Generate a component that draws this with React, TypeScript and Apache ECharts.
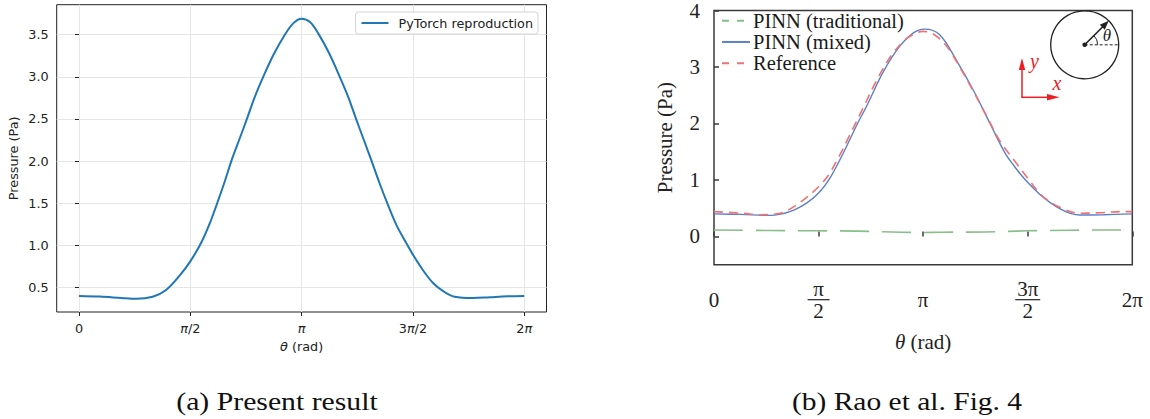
import React, { useEffect, useRef } from "react";
import * as echarts from "echarts";

const PI = Math.PI;

// ---- tick values / labels ----
const thetaTicks = [0, PI / 2, PI, (3 * PI) / 2, 2 * PI];
const thetaTickLabelsA = ["0", "π/2", "π", "3π/2", "2π"];
const thetaTickNumB = ["0", "π", "π", "3π", "2π"];
const thetaTickDenB = ["", "2", "", "2", ""];
const pressureTicksA = [0.5, 1.0, 1.5, 2.0, 2.5, 3.0, 3.5];
const pressureTicksB = [0, 1, 2, 3, 4];

// ---- (a) Present result: PyTorch reproduction ----
const thetaA = [0, 0.3, 0.6, 0.81, 1.04, 1.23, 1.42, 1.571, 1.73, 1.85, 1.95, 2.05, 2.15, 2.26, 2.37, 2.48, 2.6, 2.75, 2.905, 3.03, 3.14, 3.26, 3.38, 3.53, 3.68, 3.8, 3.91, 4.02, 4.13, 4.24, 4.36, 4.48, 4.61, 4.712, 4.85, 5.0, 5.15, 5.3, 5.56, 5.8, 6.05, 6.283];
const pressureA = [0.4, 0.392, 0.375, 0.365, 0.39, 0.47, 0.64, 0.81, 1.04, 1.27, 1.5, 1.74, 2.0, 2.25, 2.5, 2.76, 3.0, 3.27, 3.5, 3.64, 3.69, 3.65, 3.51, 3.28, 3.0, 2.76, 2.5, 2.25, 2.0, 1.74, 1.48, 1.24, 1.04, 0.89, 0.71, 0.55, 0.45, 0.39, 0.375, 0.385, 0.395, 0.4];

// ---- (b) Rao et al. Fig. 4 ----
const thetaMixed = [0, 0.4, 0.84, 1.14, 1.39, 1.571, 1.735, 1.935, 2.156, 2.29, 2.54, 2.79, 2.99, 3.16, 3.39, 3.65, 3.9, 4.15, 4.37, 4.5, 4.62, 4.75, 4.9, 5.05, 5.2, 5.35, 5.5, 5.85, 6.283];
const pressureMixed = [0.4, 0.39, 0.374, 0.44, 0.59, 0.77, 1.02, 1.46, 2.0, 2.3, 2.91, 3.37, 3.6, 3.67, 3.57, 3.1, 2.58, 1.99, 1.48, 1.26, 1.08, 0.91, 0.74, 0.6, 0.49, 0.41, 0.38, 0.385, 0.4];

const thetaRef = [0, 0.44, 0.69, 0.99, 1.29, 1.54, 1.71, 1.88, 2.05, 2.25, 2.45, 2.65, 2.85, 3.0, 3.14, 3.3, 3.5, 3.7, 3.9, 4.1, 4.3, 4.52, 4.72, 4.92, 5.17, 5.5, 5.8, 6.12, 6.283];
const pressureRef = [0.44, 0.41, 0.385, 0.41, 0.6, 0.845, 1.07, 1.42, 1.82, 2.3, 2.78, 3.18, 3.46, 3.58, 3.63, 3.58, 3.36, 2.98, 2.56, 2.12, 1.68, 1.33, 1.02, 0.73, 0.53, 0.41, 0.42, 0.44, 0.44];

const thetaTrad = [0, 0.86, 1.51, 2.14, 2.83, 3.14, 3.4, 4.07, 4.72, 5.35, 6.0, 6.283];
const pressureTrad = [0.115, 0.105, 0.1, 0.095, 0.075, 0.07, 0.075, 0.08, 0.1, 0.11, 0.115, 0.115];

const zip = (xs: number[], ys: number[]) => xs.map((x, i) => [x, ys[i]]);
const tickIndex = (v: number) => Math.round(v / (PI / 2));

const SANS = "DejaVu Sans";
const SERIF = "Liberation Serif";
const FA = 12.8;
const FB = 21;

export default function App() {
  const ref = useRef<HTMLDivElement>(null);

  useEffect(() => {
    if (!ref.current) return;
    const chart = echarts.init(ref.current, undefined, { renderer: "svg" });

    const italA = { fontStyle: "italic", fontFamily: SANS, fontSize: FA, color: "#222" };
    const richB = {
      n: { fontFamily: SERIF, fontSize: FB, color: "#222", lineHeight: 19, align: "center" },
      bar1: { width: 22, height: 1.2, backgroundColor: "#222", lineHeight: 3, align: "center" },
      bar2: { width: 25, height: 1.2, backgroundColor: "#222", lineHeight: 3, align: "center" },
    };

    const option: any = {
      animation: false,
      backgroundColor: "#ffffff",
      grid: [
        { left: 56.7, top: 4.7, width: 489.8, height: 307.3, show: true, borderColor: "#222", borderWidth: 1, backgroundColor: "transparent" },
        { left: 714, top: 4, width: 418.3, height: 260.7, show: true, borderColor: "#3a3a3a", borderWidth: 1.5, backgroundColor: "transparent" },
      ],
      xAxis: [
        {
          type: "value",
          gridIndex: 0,
          min: -0.314,
          max: 6.597,
          axisLine: { show: false },
          axisTick: { show: true, customValues: thetaTicks, length: 4, inside: false, lineStyle: { color: "#222", width: 1 } },
          axisLabel: {
            customValues: thetaTicks,
            margin: 9.5,
            fontFamily: SANS,
            fontSize: FA,
            color: "#222",
            formatter: (v: number) => thetaTickLabelsA[tickIndex(v)].replace(/π/g, "{i|π}"),
            rich: { i: italA },
          },
          splitLine: { show: true, lineStyle: { color: "#e6e6e6", width: 1 } },
          name: "{i|θ} (rad)",
          nameLocation: "middle",
          nameGap: 28.3,
          nameTextStyle: { fontFamily: SANS, fontSize: FA, color: "#222", rich: { i: italA } },
        },
        {
          type: "value",
          gridIndex: 1,
          min: 0,
          max: 2 * PI,
          axisLine: { show: false },
          axisTick: { show: true, customValues: thetaTicks, length: 5, inside: true, lineStyle: { color: "#3a3a3a", width: 1.5 } },
          axisLabel: {
            customValues: thetaTicks,
            margin: 35,
            verticalAlign: "middle",
            fontFamily: SERIF,
            fontSize: FB,
            color: "#222",
            formatter: (v: number) => {
              const k = tickIndex(v);
              const num = thetaTickNumB[k];
              const den = thetaTickDenB[k];
              if (!den) return `{n|${num}}`;
              return `{n|${num}}\n{${num.length > 1 ? "bar2" : "bar1"}| }\n{n|${den}}`;
            },
            rich: richB,
          },
          splitLine: { show: false },
          name: "{i|θ} (rad)",
          nameLocation: "middle",
          nameGap: 67,
          nameTextStyle: {
            fontFamily: SERIF,
            fontSize: FB,
            color: "#222",
            rich: { i: { fontStyle: "italic", fontFamily: SERIF, fontSize: FB, color: "#222" } },
          },
        },
      ],
      yAxis: [
        {
          type: "value",
          gridIndex: 0,
          min: 0.209,
          max: 3.856,
          axisLine: { show: false },
          axisTick: { show: true, customValues: pressureTicksA, length: 4, inside: false, lineStyle: { color: "#222", width: 1 } },
          axisLabel: {
            customValues: pressureTicksA,
            margin: 8,
            fontFamily: SANS,
            fontSize: FA,
            color: "#222",
            formatter: (v: number) => v.toFixed(1),
          },
          splitLine: { show: true, lineStyle: { color: "#e6e6e6", width: 1 } },
          name: "Pressure (Pa)",
          nameLocation: "middle",
          nameGap: 36.5,
          nameTextStyle: { fontFamily: SANS, fontSize: FA, color: "#222" },
        },
        {
          type: "value",
          gridIndex: 1,
          min: -0.5,
          max: 4,
          axisLine: { show: false },
          axisTick: { show: true, customValues: pressureTicksB, length: 5, inside: true, lineStyle: { color: "#3a3a3a", width: 1.5 } },
          axisLabel: {
            customValues: pressureTicksB,
            margin: 14,
            fontFamily: SERIF,
            fontSize: FB,
            color: "#222",
            formatter: (v: number) => String(Math.round(v)),
          },
          splitLine: { show: false },
          name: "Pressure (Pa)",
          nameLocation: "middle",
          nameGap: 39,
          nameTextStyle: { fontFamily: SERIF, fontSize: FB, color: "#222" },
        },
      ],
      legend: [
        {
          data: ["PyTorch reproduction"],
          left: 355.5,
          top: 12,
          orient: "horizontal",
          padding: [4.5, 5, 4.5, 5],
          itemWidth: 27,
          itemHeight: 14,
          borderColor: "#d4d4d4",
          borderWidth: 1,
          borderRadius: 3,
          backgroundColor: "#fff",
          selectedMode: false,
          itemStyle: { opacity: 0, borderWidth: 0 },
          textStyle: { fontFamily: SANS, fontSize: FA, color: "#222", padding: [0, 0, 0, 5] },
        },
        {
          data: [
            { name: "PINN (traditional)", lineStyle: { type: [7, 8] } },
            { name: "PINN (mixed)" },
            { name: "Reference", lineStyle: { type: [7, 8] } },
          ],
          left: 721,
          top: 10,
          orient: "vertical",
          padding: 0,
          itemGap: 0,
          itemWidth: 28,
          itemHeight: 14,
          selectedMode: false,
          itemStyle: { opacity: 0, borderWidth: 0 },
          textStyle: { fontFamily: SERIF, fontSize: 20.5, lineHeight: 21.3, color: "#1a1a1a", padding: [0, 0, 0, -2] },
        },
      ],
      series: [
        {
          name: "PyTorch reproduction",
          type: "line",
          xAxisIndex: 0,
          yAxisIndex: 0,
          data: zip(thetaA, pressureA),
          symbol: "none",
          smooth: 0.35,
          lineStyle: { color: "#1f77b4", width: 2 },
          itemStyle: { color: "#1f77b4" },
        },
        {
          name: "PINN (traditional)",
          type: "line",
          xAxisIndex: 1,
          yAxisIndex: 1,
          data: zip(thetaTrad, pressureTrad),
          symbol: "none",
          smooth: 0.35,
          lineStyle: { color: "#88bf88", width: 1.6, type: [29, 13] },
          itemStyle: { color: "#88bf88" },
        },
        {
          name: "PINN (mixed)",
          type: "line",
          xAxisIndex: 1,
          yAxisIndex: 1,
          data: zip(thetaMixed, pressureMixed),
          symbol: "none",
          smooth: 0.35,
          lineStyle: { color: "#5b7fc9", width: 1.4 },
          itemStyle: { color: "#5b7fc9" },
        },
        {
          name: "Reference",
          type: "line",
          xAxisIndex: 1,
          yAxisIndex: 1,
          data: zip(thetaRef, pressureRef),
          symbol: "none",
          smooth: 0.35,
          lineStyle: { color: "#f07272", width: 1.6, type: [9, 6] },
          itemStyle: { color: "#f07272" },
        },
      ],
      graphic: [
        // inset: circle with angle
        { type: "circle", shape: { cx: 1084.7, cy: 44.8, r: 34 }, style: { stroke: "#222", fill: "rgba(0,0,0,0)", lineWidth: 1.3 } },
        { type: "circle", shape: { cx: 1084.7, cy: 44.8, r: 2.3 }, style: { fill: "#222" } },
        { type: "line", shape: { x1: 1084.7, y1: 44.8, x2: 1103, y2: 26.5 }, style: { stroke: "#222", lineWidth: 1.6 } },
        { type: "polygon", shape: { points: [[1108.7, 20.8], [1104.8, 29.7], [1099.8, 24.7]] }, style: { fill: "#222" } },
        { type: "line", shape: { x1: 1084.7, y1: 44.8, x2: 1118.7, y2: 44.8 }, style: { stroke: "#222", lineWidth: 1, lineDash: [3, 2] } },
        { type: "arc", shape: { cx: 1084.7, cy: 44.8, r: 13, startAngle: -PI / 4, endAngle: 0, clockwise: true }, style: { stroke: "#222", fill: "rgba(0,0,0,0)", lineWidth: 1 } },
        { type: "text", x: 1107, y: 35, style: { text: "θ", font: `italic 17px "${SERIF}"`, fill: "#222", textAlign: "center", textVerticalAlign: "middle" } },
        // red coordinate axes
        { type: "line", shape: { x1: 1022, y1: 97.3, x2: 1022, y2: 66 }, style: { stroke: "#ee1c25", lineWidth: 1.5 } },
        { type: "polygon", shape: { points: [[1022, 58], [1018.8, 70], [1025.2, 70]] }, style: { fill: "#ee1c25" } },
        { type: "line", shape: { x1: 1021.3, y1: 97.3, x2: 1050, y2: 97.3 }, style: { stroke: "#ee1c25", lineWidth: 1.5 } },
        { type: "polygon", shape: { points: [[1059.5, 97.3], [1047, 94], [1047, 100.6]] }, style: { fill: "#ee1c25" } },
        { type: "text", x: 1034.5, y: 61, style: { text: "y", font: `italic 20px "${SERIF}"`, fill: "#ee1c25", textAlign: "center", textVerticalAlign: "middle" } },
        { type: "text", x: 1057, y: 83, style: { text: "x", font: `italic 20px "${SERIF}"`, fill: "#ee1c25", textAlign: "center", textVerticalAlign: "middle" } },
        // captions
        { type: "text", x: 277, y: 402, scaleX: 1.19, style: { text: "(a) Present result", font: `25px "${SERIF}"`, fill: "#111", textAlign: "center", textVerticalAlign: "middle" } },
        { type: "text", x: 907, y: 402, scaleX: 1.18, style: { text: "(b) Rao et al. Fig. 4", font: `25px "${SERIF}"`, fill: "#111", textAlign: "center", textVerticalAlign: "middle" } },
      ],
    };

    chart.setOption(option);
    return () => chart.dispose();
  }, []);

  return (
    <div
      ref={ref}
      style={{ position: "absolute", left: 0, top: 0, width: 1150, height: 419, background: "#fff" }}
    />
  );
}
